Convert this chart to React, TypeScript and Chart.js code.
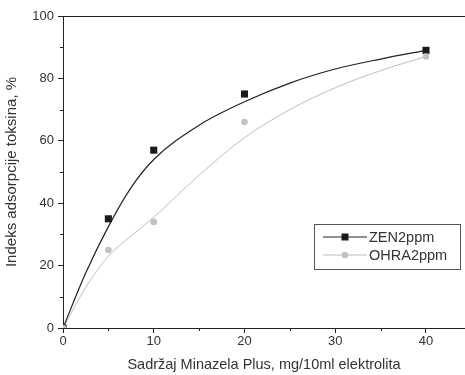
import React, { useEffect, useRef } from "react";
import { Chart, registerables } from "chart.js";

Chart.register(...registerables);

const xPoints = [0, 5, 10, 20, 40];
const zenValues = [0, 35, 57, 75, 89];
const ohraValues = [0, 25, 34, 66, 87];

// fitted curves
const xFit = [0, 2.5, 5, 7.5, 10, 15, 20, 25, 30, 35, 40];
const zenFit = [0, 17.6, 32.5, 45, 54, 65, 72.5, 78.5, 83, 86.2, 89];
const ohraFit = [0, 13, 23, 29.5, 35.5, 49, 61, 70, 77, 82.5, 87];

const xTicks = [0, 10, 20, 30, 40];
const yTicks = [0, 20, 40, 60, 80, 100];
const xMinor = [5, 15, 25, 35];
const yMinor = [10, 30, 50, 70, 90];

const seriesLabels = ["ZEN2ppm", "OHRA2ppm"];
const xTitle = "Sadržaj Minazela Plus, mg/10ml elektrolita";
const yTitle = "Indeks adsorpcije toksina, %";

const FONT = "'Liberation Sans', Arial, Helvetica, sans-serif";
const AXIS = "#222";
const TEXT = "#333";
const ZEN_COLOR = "#1a1a1a";
const OHRA_COLOR = "#c2c2c2";
const ZEN_LINE = "#222";
const OHRA_LINE = "#bdbdbd";

const pairs = (xs: number[], ys: number[]) => xs.map((x, i) => ({ x, y: ys[i] }));

const extrasPlugin = {
  id: "extras",
  afterDraw(chart: any) {
    const { ctx, chartArea, scales } = chart;
    const xs = scales.x;
    const ys = scales.y;
    ctx.save();
    // top frame line
    ctx.strokeStyle = AXIS;
    ctx.lineWidth = 1;
    ctx.beginPath();
    ctx.moveTo(chartArea.left, chartArea.top + 0.5);
    ctx.lineTo(chartArea.right, chartArea.top + 0.5);
    ctx.stroke();
    // minor ticks
    ctx.beginPath();
    xMinor.forEach((v) => {
      const px = Math.round(xs.getPixelForValue(v)) + 0.5;
      ctx.moveTo(px, chartArea.bottom);
      ctx.lineTo(px, chartArea.bottom + 3);
    });
    yMinor.forEach((v) => {
      const py = Math.round(ys.getPixelForValue(v)) + 0.5;
      ctx.moveTo(chartArea.left, py);
      ctx.lineTo(chartArea.left - 3, py);
    });
    ctx.stroke();

    // legend
    const bx = 314, by = 224, bw = 146, bh = 45;
    ctx.strokeStyle = "#555";
    ctx.strokeRect(bx + 0.5, by + 0.5, bw, bh);
    const rows = [
      { y: by + 13, line: ZEN_LINE, fill: ZEN_COLOR, shape: "rect" },
      { y: by + 31, line: OHRA_LINE, fill: OHRA_COLOR, shape: "circle" },
    ];
    rows.forEach((r, i) => {
      ctx.strokeStyle = r.line;
      ctx.lineWidth = 1.2;
      ctx.beginPath();
      ctx.moveTo(bx + 9, r.y);
      ctx.lineTo(bx + 53, r.y);
      ctx.stroke();
      ctx.fillStyle = r.fill;
      if (r.shape === "rect") {
        ctx.fillRect(bx + 31 - 3.5, r.y - 3.5, 7, 7);
      } else {
        ctx.beginPath();
        ctx.arc(bx + 31, r.y, 3.3, 0, Math.PI * 2);
        ctx.fill();
      }
      ctx.fillStyle = TEXT;
      ctx.font = `14.5px ${FONT}`;
      ctx.textBaseline = "middle";
      ctx.textAlign = "left";
      ctx.fillText(chart.data.datasets[i].label, bx + 55, r.y + 1);
    });
    ctx.restore();
  },
};

export default function App() {
  const ref = useRef<HTMLCanvasElement | null>(null);
  useEffect(() => {
    if (!ref.current) return;
    const chart = new Chart(ref.current, {
      type: "line",
      data: {
        datasets: [
          {
            label: seriesLabels[0],
            data: pairs(xPoints, zenValues),
            showLine: false,
            pointStyle: "rect",
            pointRadius: 5,
            pointBackgroundColor: ZEN_COLOR,
            pointBorderWidth: 0,
            order: 1,
          },
          {
            label: seriesLabels[1],
            data: pairs(xPoints, ohraValues),
            showLine: false,
            pointStyle: "circle",
            pointRadius: 3.3,
            pointBackgroundColor: OHRA_COLOR,
            pointBorderWidth: 0,
            order: 0,
          },
          {
            label: seriesLabels[0] + " fit",
            data: pairs(xFit, zenFit),
            borderColor: ZEN_LINE,
            borderWidth: 1.2,
            pointRadius: 0,
            cubicInterpolationMode: "monotone",
            order: 2,
          },
          {
            label: seriesLabels[1] + " fit",
            data: pairs(xFit, ohraFit),
            borderColor: OHRA_LINE,
            borderWidth: 1,
            pointRadius: 0,
            cubicInterpolationMode: "monotone",
            order: 3,
          },
        ],
      },
      options: {
        animation: false,
        responsive: false,
        maintainAspectRatio: false,
        layout: { autoPadding: false, padding: { top: 16, right: 0, left: 0, bottom: 0 } },
        plugins: { legend: { display: false }, tooltip: { enabled: false } },
        scales: {
          x: {
            type: "linear",
            min: 0,
            max: 44.3,
            afterFit: (s: any) => { s.height = 47; },
            afterBuildTicks: (s: any) => { s.ticks = xTicks.map((v) => ({ value: v })); },
            ticks: { font: { family: FONT, size: 13 }, color: TEXT, padding: 1, maxRotation: 0 },
            grid: { drawOnChartArea: false, tickLength: 5, color: AXIS },
            border: { color: AXIS, width: 1 },
            title: {
              display: true,
              text: xTitle,
              font: { family: FONT, size: 14.5 },
              color: TEXT,
              padding: { top: 0, bottom: 1 },
            },
          },
          y: {
            type: "linear",
            min: 0,
            max: 100,
            afterFit: (s: any) => { s.width = 63; },
            afterBuildTicks: (s: any) => { s.ticks = yTicks.map((v) => ({ value: v })); },
            ticks: { font: { family: FONT, size: 13 }, color: TEXT, padding: 4 },
            grid: { drawOnChartArea: false, tickLength: 5, color: AXIS },
            border: { color: AXIS, width: 1 },
            title: {
              display: true,
              text: yTitle,
              font: { family: FONT, size: 15 },
              color: TEXT,
              padding: { top: 3, bottom: 0 },
            },
          },
        },
      },
      plugins: [extrasPlugin],
    });
    return () => chart.destroy();
  }, []);
  return (
    <div style={{ position: "fixed", left: 0, top: 0, width: 465, height: 375, background: "#fff" }}>
      <canvas ref={ref} width={465} height={375} style={{ width: 465, height: 375, display: "block" }} />
    </div>
  );
}
